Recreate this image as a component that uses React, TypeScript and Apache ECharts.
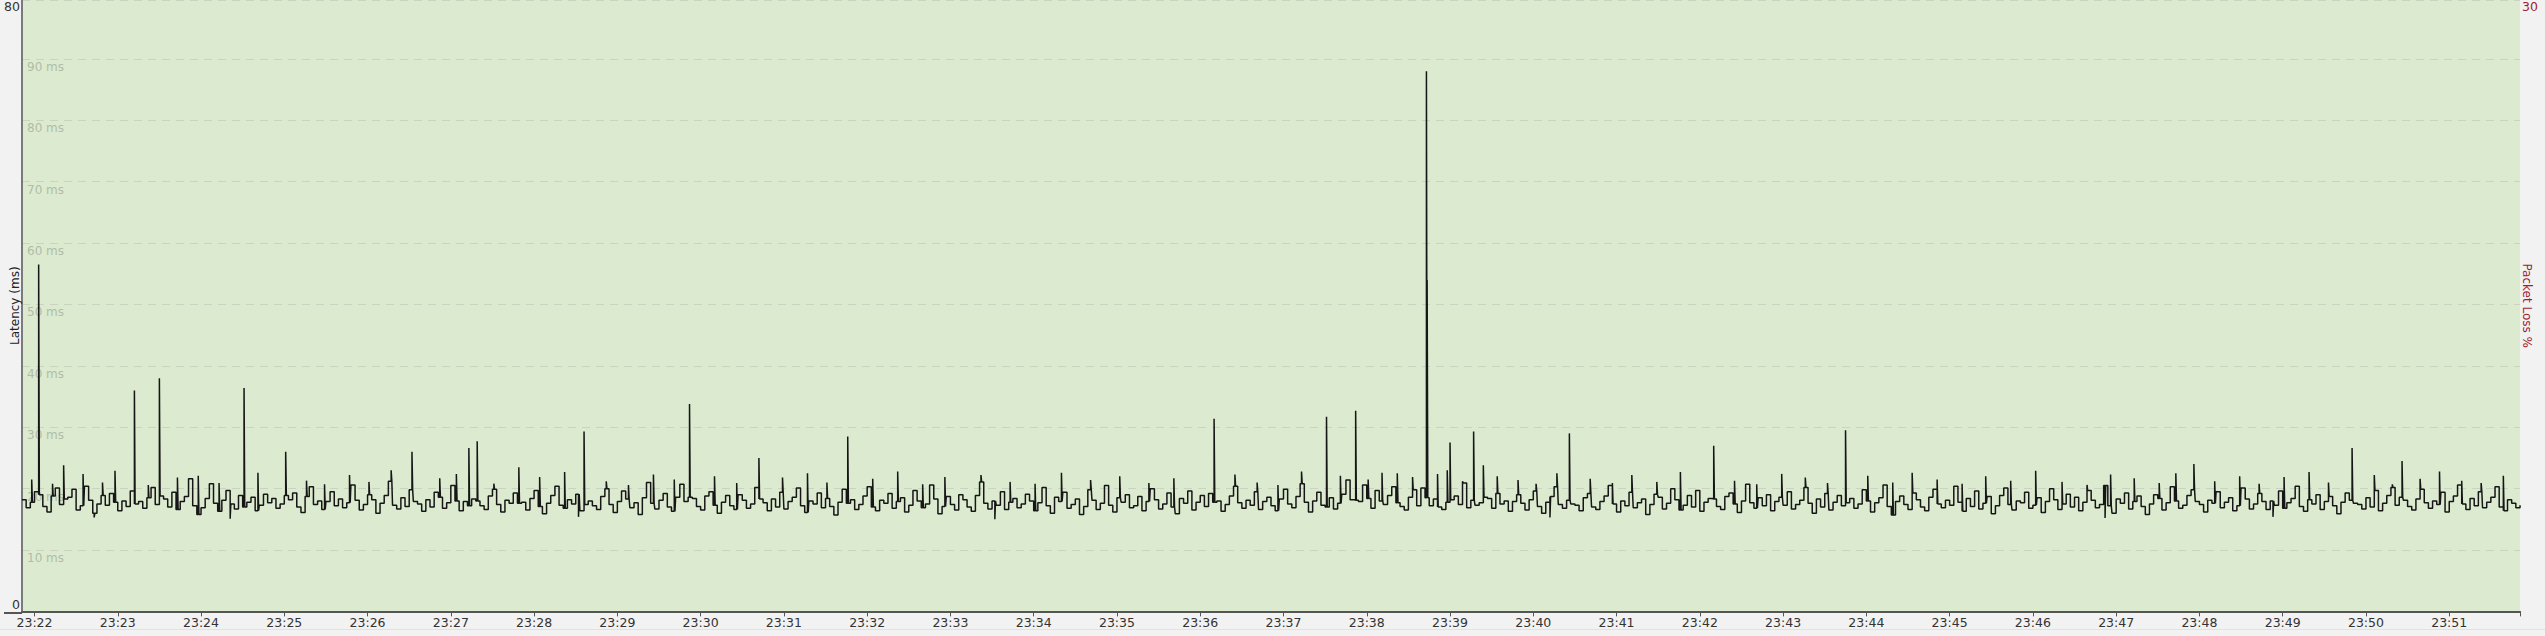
import React, { useEffect, useRef } from "react";
import * as echarts from "echarts";

// time of first sample, seconds after 23:00:00, and sample spacing in seconds
const START_SEC = 1311;
const STEP_SEC = 3;
const END_SEC = 3111;

const timeLabels = [
  "23:22", "23:23", "23:24", "23:25", "23:26", "23:27", "23:28", "23:29", "23:30", "23:31",
  "23:32", "23:33", "23:34", "23:35", "23:36", "23:37", "23:38", "23:39", "23:40", "23:41",
  "23:42", "23:43", "23:44", "23:45", "23:46", "23:47", "23:48", "23:49", "23:50", "23:51",
];

const latencyGridLabels = ["10 ms", "20 ms", "30 ms", "40 ms", "50 ms", "60 ms", "70 ms", "80 ms", "90 ms"];

// baseline latency (ms), one value every 3 s
const lat0 = [18.2, 16.9, 17.8, 19.5, 19.0, 17.1, 16.2, 18.8, 20.1, 17.4, 18.3, 18.6, 19.9, 16.5, 17.2, 20.4, 18.1, 16.0, 17.5, 18.9, 17.3, 19.2, 17.8, 16.4, 18.0, 17.1, 19.6, 17.5, 17.9, 16.8, 18.5, 20.2, 17.4, 18.8, 18.3, 17.0, 19.4, 16.6, 17.9, 18.7, 21.6, 17.2, 15.8, 16.9, 18.4, 20.8, 17.6, 16.3, 18.1, 19.7, 17.5, 16.7, 18.9, 17.0, 17.8, 18.6, 16.4, 17.3, 19.1, 17.7];
const lat1 = [18.4, 16.8, 17.5, 18.9, 18.2, 19.3, 17.0, 16.1, 18.7, 20.3, 17.4, 18.0, 16.6, 17.9, 19.5, 17.2, 18.3, 16.9, 17.7, 20.6, 18.1, 16.5, 17.4, 19.0, 18.2, 16.0, 17.6, 18.9, 21.2, 17.3, 16.7, 18.5, 17.1, 19.8, 17.9, 17.5, 16.3, 18.2, 17.0, 19.4, 18.6, 16.8, 17.7, 20.5, 18.0, 16.4, 17.9, 17.2, 18.3, 18.0, 17.2, 16.6, 18.8, 19.9, 17.4, 16.2, 18.1, 17.6, 19.3, 17.6];
const lat2 = [17.8, 16.5, 18.4, 19.7, 17.1, 15.9, 17.6, 18.9, 20.4, 17.3, 16.8, 18.2, 17.5, 19.1, 16.4, 17.4, 18.0, 17.2, 16.6, 18.7, 20.0, 17.4, 16.1, 17.9, 19.6, 18.3, 16.9, 17.7, 15.8, 18.5, 21.0, 17.6, 16.7, 18.1, 19.2, 17.0, 16.3, 18.6, 20.7, 17.9, 18.6, 18.4, 17.1, 16.5, 18.8, 19.5, 17.3, 16.0, 17.8, 18.9, 17.2, 16.6, 19.0, 18.1, 16.8, 17.5, 20.2, 18.3, 17.7, 16.4];
const lat3 = [18.3, 17.0, 19.4, 16.7, 17.9, 18.6, 20.1, 17.2, 16.1, 18.0, 17.5, 19.3, 16.9, 18.4, 17.1, 15.7, 17.8, 19.9, 17.6, 18.2, 16.6, 17.4, 18.8, 20.3, 17.0, 16.4, 18.1, 17.6, 19.2, 16.8, 17.9, 18.5, 16.2, 17.3, 19.7, 18.0, 16.9, 17.5, 20.6, 18.3, 15.9, 17.1, 18.7, 17.4, 16.5, 19.0, 18.2, 17.0, 16.3, 18.9, 21.1, 17.6, 16.7, 18.0, 17.3, 19.5, 16.6, 17.8, 18.4, 16.9];
const lat4 = [17.5, 19.1, 18.0, 16.4, 17.7, 20.2, 17.2, 16.0, 18.6, 17.9, 19.4, 16.8, 17.4, 18.3, 15.8, 17.1, 19.8, 18.1, 16.6, 17.6, 20.5, 17.3, 16.2, 18.5, 17.8, 19.0, 16.9, 17.2, 18.7, 16.4, 17.9, 20.0, 18.2, 16.7, 17.5, 19.3, 17.0, 15.9, 18.4, 17.6, 19.6, 16.5, 17.8, 18.9, 17.1, 19.2, 17.8, 18.0, 16.3, 17.4, 18.8, 20.4, 17.7, 16.8, 18.1, 17.3, 19.5, 16.6, 17.9, 18.6];
const lat5 = [17.2, 16.4, 18.3, 19.9, 17.5, 16.9, 18.7, 20.8, 17.8, 16.2, 18.0, 19.4, 17.3, 17.0, 18.5, 16.7, 17.6, 19.1, 21.4, 18.2, 18.1, 17.9, 20.6, 18.4, 16.8, 19.7, 18.0, 17.4, 18.9, 20.3, 17.7, 17.1, 16.5, 18.6, 19.8, 17.2, 20.1, 18.5, 17.2, 18.3, 17.0, 16.6, 17.8, 18.2, 18.8, 17.4, 20.9, 16.9, 18.1, 17.3, 17.7, 18.6, 18.4, 16.8, 19.2, 17.5, 18.0, 16.3, 17.9, 19.0];
const lat6 = [17.6, 16.5, 18.2, 19.6, 17.1, 16.0, 17.8, 18.7, 20.3, 17.4, 16.8, 18.1, 17.5, 17.3, 16.4, 18.5, 19.2, 17.0, 16.6, 17.9, 18.8, 20.5, 17.5, 16.2, 18.0, 17.2, 19.4, 16.9, 17.7, 18.3, 15.8, 17.4, 19.1, 18.6, 16.7, 17.6, 20.0, 18.2, 16.5, 17.3, 18.9, 17.0, 19.7, 16.3, 17.8, 18.4, 18.3, 17.1, 16.6, 18.7, 19.3, 17.5, 16.1, 18.0, 20.7, 17.7, 16.8, 18.5, 17.2, 19.0];
const lat7 = [16.4, 17.9, 18.6, 17.3, 19.5, 16.7, 17.4, 18.1, 20.2, 17.6, 16.0, 18.3, 17.0, 19.2, 16.5, 17.8, 18.9, 17.2, 17.7, 18.4, 16.8, 17.5, 19.8, 18.0, 16.2, 17.7, 18.5, 20.6, 17.1, 15.7, 17.9, 18.8, 17.4, 16.6, 19.3, 18.2, 17.0, 16.4, 18.6, 19.9, 17.5, 16.9, 18.1, 17.3, 20.4, 17.8, 16.3, 18.4, 17.1, 19.6, 16.7, 17.6, 18.7, 15.9, 17.2, 18.9, 20.1, 17.4, 16.5, 18.0];
const lat8 = [17.7, 19.4, 16.8, 17.3, 18.5, 16.1, 17.9, 20.0, 18.2, 16.6, 17.5, 19.1, 17.0, 18.6, 16.4, 17.8, 19.7, 18.1, 16.9, 17.4, 20.5, 17.2, 16.0, 18.3, 17.6, 19.3, 16.7, 17.9, 18.8, 17.1, 15.8, 17.5, 19.0, 18.4, 16.5, 17.7, 20.3, 18.0, 16.8, 17.3, 18.9, 19.8, 17.9, 17.4, 16.2, 18.1, 17.6, 19.5, 16.9, 17.8, 18.5, 16.4, 17.2, 20.1, 18.3, 16.7, 17.5, 19.2, 17.9, 16.6];
const lat9 = [18.0, 17.3, 19.6, 16.8, 17.7, 18.4, 20.4, 17.1, 16.3, 18.2, 17.5, 19.0, 16.6, 17.9, 18.7, 17.2, 15.9, 17.8, 19.3, 18.1, 17.6, 17.4, 16.7, 18.5, 17.0, 19.7, 16.4, 17.6, 18.9, 20.2, 17.3, 18.6, 18.1, 17.1, 16.5, 18.3, 19.9, 17.7, 16.8, 18.0, 17.4, 19.4, 16.2, 17.9, 18.8, 20.6, 17.5, 16.6, 18.4, 17.2, 19.5, 16.9, 17.8, 18.6, 20.3, 17.0, 16.4, 18.2, 17.6, 16.9, 17.3];

// tall, short latency spikes: [seconds after first sample, ms]
const spikes: [number, number][] = [
  [12, 56.5], [30, 23.8], [81, 36.0], [99, 38.0], [160, 36.4], [190, 26.0],
  [281, 26.0], [322, 26.6], [328, 27.7], [358, 23.5], [405, 29.3], [481, 33.8],
  [531, 25.0], [595, 28.5], [859, 31.4], [940, 31.7], [961, 32.7], [980, 22.6],
  [991, 22.5], [1012, 88.0], [1012.5, 54.0], [1027, 23.0], [1029, 27.5], [1046, 29.3],
  [1053, 23.8], [1115, 29.0], [1219, 27.0], [1314, 29.5], [1565, 24.0], [1679, 26.6],
  [1715, 24.5],
];

// small short blips and dips within the band: [seconds after first sample, ms]
const blips: [number, number][] = [
  [7, 21.5], [22, 20.8], [44, 22.4], [52, 15.3], [58, 21.0], [67, 22.9], [91, 20.6], [112, 21.8],
  [127, 22.1], [142, 20.9], [150, 15.1], [170, 22.6], [205, 21.3], [218, 20.7], [236, 22.2],
  [250, 21.1], [266, 23.0], [301, 21.7], [313, 22.4], [340, 20.8], [373, 21.9], [391, 22.7],
  [401, 15.4], [421, 21.2], [437, 20.6], [455, 22.3], [470, 21.5], [499, 22.0], [515, 20.9],
  [548, 21.8], [566, 22.5], [580, 21.0], [613, 21.6], [631, 22.8], [649, 20.7], [665, 21.9],
  [691, 22.2], [701, 15.0], [712, 21.1], [730, 20.8], [749, 22.6], [770, 21.4], [791, 22.0],
  [812, 20.9], [830, 21.7], [874, 22.3], [890, 21.0], [905, 20.6], [922, 22.8], [950, 22.1],
  [970, 21.5], [1002, 21.9], [1020, 22.4], [1038, 21.2], [1063, 22.0], [1078, 21.4],
  [1091, 20.8], [1101, 15.3], [1106, 22.5], [1130, 21.6], [1146, 20.9], [1160, 22.2],
  [1178, 21.1], [1195, 22.7], [1234, 21.3], [1250, 20.7], [1268, 22.4], [1285, 21.8],
  [1301, 20.9], [1330, 22.1], [1348, 21.0], [1362, 22.6], [1380, 21.5], [1398, 20.8],
  [1415, 22.0], [1433, 21.3], [1451, 22.9], [1470, 21.1], [1488, 20.6], [1501, 15.2],
  [1505, 22.3], [1522, 21.7], [1540, 20.9], [1552, 22.5], [1580, 21.2], [1598, 22.0],
  [1612, 20.8], [1622, 15.4], [1630, 21.9], [1648, 22.7], [1662, 21.0], [1695, 22.2],
  [1708, 20.7], [1728, 21.6], [1742, 22.8], [1758, 21.3], [1772, 20.9], [1788, 22.1],
];

const latency = [...lat0, ...lat1, ...lat2, ...lat3, ...lat4, ...lat5, ...lat6, ...lat7, ...lat8, ...lat9];

const FONT = "DejaVu Sans";

function labelToSec(l: string) {
  const [h, m] = l.split(":").map(Number);
  return (h - 23) * 3600 + m * 60;
}

function buildData() {
  const events = [...spikes, ...blips].sort((a, b) => a[0] - b[0]);
  const out: [number, number][] = [];
  latency.forEach((v, i) => {
    const t0 = i * STEP_SEC;
    out.push([START_SEC + t0, v]);
    events
      .filter(([ts]) => ts >= t0 && ts < t0 + STEP_SEC)
      .forEach(([ts, sv]) => {
        out.push([START_SEC + ts, sv]);
        out.push([START_SEC + ts + 0.5, v]);
      });
  });
  return out;
}

export default function App() {
  const ref = useRef<HTMLDivElement>(null);
  useEffect(() => {
    if (!ref.current) return;
    const chart = echarts.init(ref.current, undefined, { renderer: "svg" });
    const tickValues = timeLabels.map(labelToSec);
    const labelMap: Record<number, string> = {};
    timeLabels.forEach((l, i) => (labelMap[tickValues[i]] = l));
    const data = buildData();

    chart.setOption({
      animation: false,
      backgroundColor: "#f2f2f2",
      textStyle: { fontFamily: FONT },
      grid: {
        left: 22,
        right: 25,
        top: 0,
        bottom: 24.6,
        show: true,
        backgroundColor: "#dcebd0",
        borderWidth: 0,
        containLabel: false,
        outerBoundsMode: "none",
      },
      xAxis: {
        type: "value",
        min: START_SEC,
        max: END_SEC,
        offset: 1.5,
        axisLine: { show: true, lineStyle: { color: "#555", width: 2 } },
        axisTick: {
          show: true,
          length: 5,
          customValues: [...tickValues, END_SEC],
          lineStyle: { color: "#555", width: 1 },
        },
        axisLabel: {
          customValues: tickValues,
          formatter: (v: number) => labelMap[v] ?? "",
          color: "#333",
          fontSize: 12.5,
          fontFamily: FONT,
          margin: 3,
        },
        splitLine: { show: false },
      },
      yAxis: [
        {
          type: "value",
          min: 0,
          max: 99.6,
          interval: 10,
          position: "left",
          axisLine: { show: true, lineStyle: { color: "#7a7a7a", width: 2 } },
          axisTick: { show: false },
          axisLabel: {
            inside: true,
            margin: 5,
            verticalAlign: "top",
            padding: [2, 0, 0, 0],
            color: "#b0bca7",
            fontSize: 12,
            fontFamily: FONT,
            showMaxLabel: false,
            formatter: (v: number) => latencyGridLabels[Math.round(v / 10) - 1] ?? "",
          },
          splitLine: {
            show: true,
            lineStyle: { color: "#c8d3c0", type: [8, 6], width: 1 },
          },
        },
        {
          type: "value",
          min: 0,
          max: 80,
          interval: 80,
          position: "left",
          name: "Latency (ms)",
          nameLocation: "middle",
          nameRotate: 90,
          nameGap: 1,
          nameMoveOverlap: false,
          nameTextStyle: { color: "#222", fontSize: 12, fontFamily: FONT },
          axisLine: { show: false },
          axisTick: { show: false },
          splitLine: { show: false },
          axisLabel: {
            margin: 2,
            color: "#333",
            fontSize: 12.5,
            fontFamily: FONT,
            showMinLabel: true,
            showMaxLabel: true,
            verticalAlignMinLabel: "bottom",
            verticalAlignMaxLabel: "top",
          },
        },
        {
          type: "value",
          min: 0,
          max: 30,
          interval: 30,
          position: "right",
          name: "Packet Loss %",
          nameLocation: "middle",
          nameRotate: -90,
          nameGap: 1,
          nameMoveOverlap: false,
          nameTextStyle: { color: "#a01f2d", fontSize: 12, fontFamily: FONT },
          axisLine: { show: false },
          axisTick: { show: false },
          splitLine: { show: false },
          axisLabel: {
            margin: 2,
            color: "#a01f2d",
            fontSize: 12.5,
            fontFamily: FONT,
            showMinLabel: false,
            showMaxLabel: true,
            verticalAlignMaxLabel: "top",
            formatter: (v: number) => (v === 0 ? "" : String(v)),
          },
        },
      ],
      graphic: [
        {
          type: "line",
          shape: { x1: 4, y1: 613, x2: 22, y2: 613 },
          style: { stroke: "#555", lineWidth: 2 },
          silent: true,
        },
        {
          type: "line",
          shape: { x1: 0, y1: 629.5, x2: 2545, y2: 629.5 },
          style: { stroke: "#e2e2e2", lineWidth: 1 },
          silent: true,
        },
      ],
      series: [
        {
          type: "line",
          yAxisIndex: 0,
          data,
          step: "end",
          symbol: "none",
          lineStyle: { color: "#161616", width: 1.5 },
          silent: true,
        },
      ],
    });
    return () => chart.dispose();
  }, []);
  return (
    <div
      ref={ref}
      style={{ position: "fixed", left: 0, top: 0, width: 2545, height: 636 }}
    />
  );
}
